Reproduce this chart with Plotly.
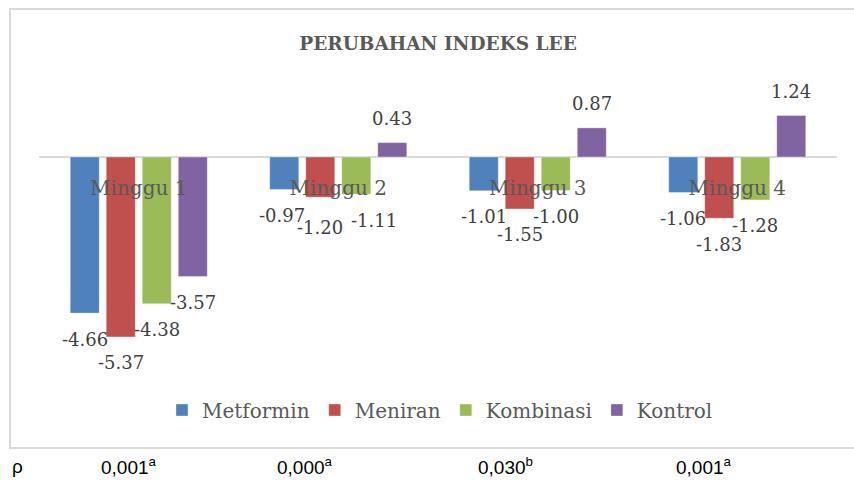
import plotly.graph_objects as go

categories = ["Minggu 1", "Minggu 2", "Minggu 3", "Minggu 4"]
series_names = ["Metformin", "Meniran", "Kombinasi", "Kontrol"]
metformin = [-4.66, -0.97, -1.01, -1.06]
meniran = [-5.37, -1.20, -1.55, -1.83]
kombinasi = [-4.38, -1.11, -1.00, -1.28]
kontrol = [-3.57, 0.43, 0.87, 1.24]
p_values = ["0,001<sup>a</sup>", "0,000<sup>a</sup>", "0,030<sup>b</sup>", "0,001<sup>a</sup>"]
p_label = "ρ"
title_text = "PERUBAHAN INDEKS LEE"

colors = ["#4f81bd", "#c0504d", "#9bbb59", "#8064a2"]
series = [metformin, meniran, kombinasi, kontrol]

W, H = 854, 480
ML, MR, MT, MB = 39, 17, 90, 122
plot_w = W - ML - MR
plot_h = H - MT - MB
bargap = 0.278
cat_px = plot_w / len(categories)
slot_px = cat_px * (1 - bargap) / len(series)


def py(px_y):
    return (MT + plot_h - px_y) / plot_h


def px(px_x):
    return (px_x - ML) / plot_w


fig = go.Figure()
for name, vals, col in zip(series_names, series, colors):
    fig.add_trace(go.Bar(
        x=categories, y=vals, name=name,
        marker=dict(color=col, line=dict(color="rgba(255,255,255,0.35)", width=1)),
    ))

annotations = []
label_font = dict(family="DejaVu Serif", size=18, color="#404040")
# Excel nudged a few labels to avoid overlap
label_nudge_x = {(2, 1): 18, (0, 1): -2}
label_nudge_y = {(1, 1): -4}
for i, vals in enumerate(series):
    for j, (cat, v) in enumerate(zip(categories, vals)):
        annotations.append(dict(
            x=cat, y=v, xref="x", yref="y", text=f"{v:.2f}", showarrow=False,
            xshift=(i - 1.5) * slot_px + label_nudge_x.get((i, j), 0),
            yshift=(24 if v >= 0 else -26) + label_nudge_y.get((i, j), 0),
            yanchor="middle", xanchor="center", font=label_font,
        ))

p_font = dict(family="Liberation Sans", size=19, color="#000000")
p_shifts = [-10, -33, -32, -33]
for cat, pv, sh in zip(categories, p_values, p_shifts):
    annotations.append(dict(
        x=cat, xref="x", y=py(466), yref="paper", text=pv, showarrow=False, xshift=sh,
        xanchor="center", yanchor="middle", font=p_font,
    ))
annotations.append(dict(
    x=px(17), xref="paper", y=py(466), yref="paper",
    text=p_label, showarrow=False, xanchor="center", yanchor="middle", font=p_font,
))

fig.update_layout(
    width=W, height=H,
    margin=dict(l=ML, r=MR, t=MT, b=MB),
    paper_bgcolor="white", plot_bgcolor="white",
    barmode="group", bargap=bargap, bargroupgap=0.194,
    title=dict(text=f"<b>{title_text}</b>", x=px(438), xref="paper", xanchor="center",
               y=1 - 44 / H, yanchor="middle",
               font=dict(family="DejaVu Serif", size=18.5, color="#595959")),
    xaxis=dict(anchor="free", position=0.75, showline=False, showgrid=False,
               ticks="", ticklabelstandoff=17,
               tickfont=dict(family="DejaVu Serif", size=20, color="#595959")),
    yaxis=dict(range=[-6, 2], showgrid=False, showticklabels=False, ticks="",
               zeroline=True, zerolinecolor="#d9d9d9", zerolinewidth=1.5, showline=False),
    legend=dict(orientation="h", x=px(440), xanchor="center",
                y=py(410), yanchor="middle",
                font=dict(family="DejaVu Serif", size=20, color="#595959"),
                itemwidth=30, bgcolor="rgba(0,0,0,0)"),
    annotations=annotations,
    shapes=[dict(type="rect", xref="paper", yref="paper",
                 x0=px(10), x1=px(856), y0=py(448), y1=py(9),
                 line=dict(color="#d9d9d9", width=2), fillcolor="rgba(0,0,0,0)", layer="below")],
)

fig.write_html("out.html", config={"displayModeBar": False},
               post_script="document.body.style.margin='0';")
